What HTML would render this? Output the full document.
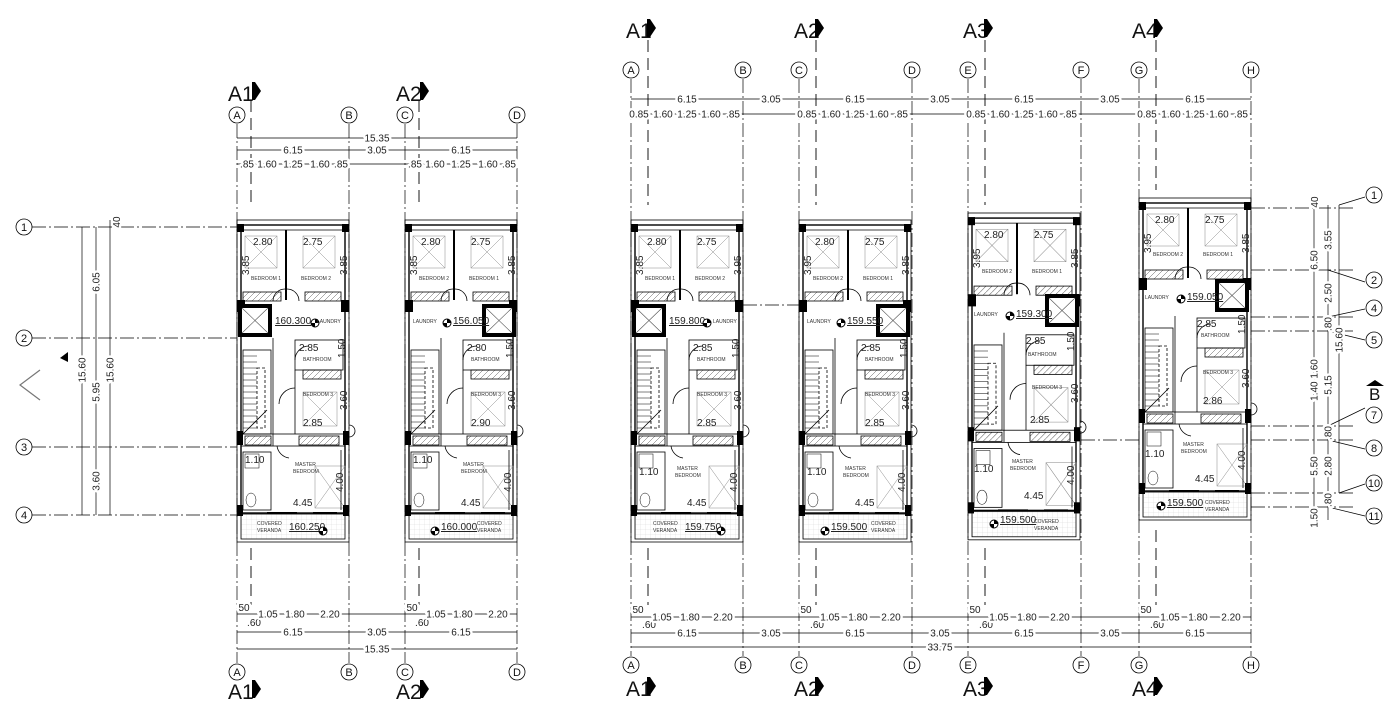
<!DOCTYPE html>
<html><head><meta charset="utf-8"><style>
html,body{margin:0;padding:0;background:#fff;}
svg{display:block;font-family:"Liberation Sans",sans-serif;}
.d{font-size:10px;fill:#222;}
.s{font-size:5px;fill:#333;}
.h{font-size:21px;fill:#111;}
.c{font-size:11px;fill:#111;}
.m{paint-order:stroke;stroke:#fff;stroke-width:5px;stroke-linejoin:round;}
</style></head><body>
<svg width="1385" height="718" viewBox="0 0 1385 718" xmlns="http://www.w3.org/2000/svg">
<defs>
<pattern id="ht" width="6" height="6" patternUnits="userSpaceOnUse"><path d="M0 6L6 0" stroke="#555" stroke-width="0.5"/></pattern>
<pattern id="gr" width="5" height="5" patternUnits="userSpaceOnUse"><path d="M5 0V5M0 5H5" stroke="#ccc" stroke-width="0.4"/></pattern>
<symbol id="plan" overflow="visible">
<g fill="none" stroke="#000" stroke-width="0.8">
<rect x="0" y="0" width="112" height="322"/>
<rect x="4" y="5" width="104" height="288" stroke-width="1.4"/>
<line x1="6" y1="10" x2="106" y2="10"/>
<line x1="49" y1="10" x2="49" y2="80" stroke-width="2"/>
<g stroke="#888" stroke-width="0.5">
<rect x="8" y="16" width="32" height="32"/><path d="M8 16L40 48M40 16L8 48"/>
<rect x="66" y="16" width="32" height="32"/><path d="M66 16L98 48M98 16L66 48"/>
<rect x="66" y="172" width="34" height="34"/><path d="M66 172L100 206M100 172L66 206"/>
<rect x="78" y="246" width="30" height="42"/><path d="M78 246L108 288M108 246L78 288"/>
</g>
<rect x="6" y="72" width="38" height="9" fill="url(#ht)"/>
<rect x="68" y="72" width="36" height="9" fill="url(#ht)"/>
<path d="M36 81A12 12 0 0 1 48 69M62 81A12 12 0 0 0 50 69"/>
<line x1="36" y1="118" x2="36" y2="226"/>
<rect x="58" y="120" width="48" height="30"/>
<line x1="58" y1="150" x2="58" y2="214"/>
<path d="M58 140A14 14 0 0 1 72 126"/>
<path d="M58 168A16 16 0 0 0 42 184"/>
<rect x="66" y="150" width="38" height="9" fill="url(#ht)"/>
<rect x="6" y="130" width="28" height="84"/>
<path d="M6 136H20M6 142H20M6 148H20M6 154H20M6 160H20M6 166H20M6 172H20M6 178H20M6 184H20M6 190H20M6 196H20M6 202H20M6 208H20" stroke-width="0.5"/>
<rect x="20" y="148" width="8" height="60" stroke-dasharray="3 2"/>
<path d="M6 214L30 190"/>
<path d="M112 205A6 6 0 0 1 112 217"/>
<rect x="4" y="214" width="104" height="12"/>
<rect x="8" y="216" width="26" height="9" fill="url(#ht)"/>
<rect x="62" y="216" width="40" height="9" fill="url(#ht)"/>
<path d="M40 226A14 14 0 0 0 52 238"/>
<rect x="6" y="232" width="28" height="58"/>
<rect x="8" y="234" width="14" height="14" stroke-width="0.5"/>
<ellipse cx="14" cy="280" rx="5" ry="7" stroke-width="0.5"/>
<line x1="104" y1="230" x2="104" y2="290"/>
<rect x="4" y="294" width="104" height="25" fill="url(#gr)"/>
<line x1="30" y1="293" x2="60" y2="293" stroke-width="2"/>
<line x1="76" y1="293" x2="100" y2="293" stroke-width="2"/>
</g>
<g fill="#000">
<rect x="0" y="4" width="7" height="8"/><rect x="105" y="4" width="7" height="8"/>
<rect x="0" y="80" width="8" height="12"/><rect x="104" y="80" width="8" height="12"/>
<rect x="0" y="211" width="6" height="14"/><rect x="106" y="211" width="6" height="14"/>
<rect x="0" y="285" width="6" height="11"/><rect x="106" y="285" width="6" height="11"/>
</g>
</symbol>
<symbol id="shaft" overflow="visible"><rect x="0" y="0" width="30" height="29" fill="#fff" stroke="#000" stroke-width="4"/><path d="M2 2L28 27M28 2L2 27" stroke="#555" stroke-width="0.6"/></symbol>
<symbol id="mk" overflow="visible"><circle r="4" fill="#fff" stroke="#000"/><path d="M0 -4A4 4 0 0 1 4 0H0ZM0 4A4 4 0 0 1 -4 0H0Z" fill="#000"/></symbol>
</defs>

<g stroke="#000" stroke-width="0.7" fill="none">
<g stroke-dasharray="14 3 2 3">
<line x1="237" y1="124" x2="237" y2="663"/><line x1="349" y1="124" x2="349" y2="663"/>
<line x1="405" y1="124" x2="405" y2="663"/><line x1="517" y1="124" x2="517" y2="663"/>
<line x1="631" y1="79" x2="631" y2="656"/><line x1="743" y1="79" x2="743" y2="656"/>
<line x1="799" y1="79" x2="799" y2="656"/><line x1="912" y1="79" x2="912" y2="656"/>
<line x1="968" y1="79" x2="968" y2="656"/><line x1="1081" y1="79" x2="1081" y2="656"/>
<line x1="1139" y1="79" x2="1139" y2="656"/><line x1="1251" y1="79" x2="1251" y2="656"/>
<line x1="32" y1="227" x2="237" y2="227"/><line x1="32" y1="338" x2="237" y2="338"/>
<line x1="32" y1="447" x2="237" y2="447"/><line x1="32" y1="515" x2="237" y2="515"/>
<line x1="743" y1="305" x2="799" y2="305"/>
<line x1="1081" y1="440" x2="1139" y2="440"/>
<line x1="1251" y1="208" x2="1355" y2="208"/><line x1="1251" y1="270" x2="1355" y2="270"/>
<line x1="1251" y1="317" x2="1355" y2="317"/><line x1="1251" y1="331" x2="1355" y2="331"/>
<line x1="1251" y1="426" x2="1355" y2="426"/><line x1="1251" y1="440" x2="1355" y2="440"/>
<line x1="1251" y1="493" x2="1355" y2="493"/><line x1="1251" y1="507" x2="1355" y2="507"/>
</g>
<g stroke-dasharray="12 6" stroke-width="0.9">
<line x1="251" y1="100" x2="251" y2="205"/><line x1="251" y1="548" x2="251" y2="605"/>
<line x1="419" y1="100" x2="419" y2="205"/><line x1="419" y1="548" x2="419" y2="605"/>
<line x1="648" y1="40" x2="648" y2="205"/><line x1="648" y1="548" x2="648" y2="605"/>
<line x1="816" y1="40" x2="816" y2="205"/><line x1="816" y1="548" x2="816" y2="605"/>
<line x1="985" y1="40" x2="985" y2="205"/><line x1="985" y1="548" x2="985" y2="605"/>
<line x1="1156" y1="40" x2="1156" y2="190"/><line x1="1156" y1="530" x2="1156" y2="605"/>
</g>
<line x1="237" y1="138" x2="517" y2="138"/><line x1="237" y1="150" x2="517" y2="150"/><line x1="237" y1="164" x2="517" y2="164"/>
<line x1="237" y1="614" x2="517" y2="614"/><line x1="237" y1="632" x2="517" y2="632"/><line x1="237" y1="649" x2="517" y2="649"/>
<line x1="631" y1="99" x2="1251" y2="99"/><line x1="631" y1="114" x2="1251" y2="114"/>
<line x1="631" y1="617" x2="1251" y2="617"/><line x1="631" y1="633" x2="1251" y2="633"/><line x1="631" y1="647" x2="1251" y2="647"/>
<line x1="82" y1="227" x2="82" y2="515"/><line x1="96" y1="227" x2="96" y2="515"/><line x1="110" y1="220" x2="110" y2="515"/>
<line x1="1314" y1="205" x2="1314" y2="520"/><line x1="1328" y1="205" x2="1328" y2="520"/><line x1="1339" y1="205" x2="1339" y2="493"/>
<path d="M1339 205L1365 197M1328 270L1365 282M1328 317L1365 309M1328 331L1365 340M1328 426L1365 408M1328 440L1365 449M1339 493L1365 484M1328 507L1365 516"/>
<path d="M40 370L20 385L40 400" stroke="#777" stroke-width="1.2"/>
</g>

<use href="#plan" x="237" y="220"/>
<use href="#plan" x="405" y="220"/>
<use href="#plan" x="631" y="220"/>
<use href="#plan" x="799" y="220"/>
<use href="#plan" transform="translate(968,213) scale(1,1.015)"/>
<use href="#plan" transform="translate(1139,198)"/>
<use href="#shaft" x="240" y="306"/>
<use href="#shaft" x="484" y="306"/>
<use href="#shaft" x="634" y="306"/>
<use href="#shaft" x="878" y="306"/>
<use href="#shaft" x="1047" y="296"/>
<use href="#shaft" x="1217" y="281"/>

<g class="d">
<g transform="translate(237,220)">
<text x="16" y="25">2.80</text><text x="66" y="25">2.75</text>
<text transform="translate(12,55) rotate(-90)">3.85</text><text transform="translate(110,55) rotate(-90)">3.85</text>
<text class="s" x="14" y="60">BEDROOM 1</text><text class="s" x="64" y="60">BEDROOM 2</text>
<text x="38" y="104" text-decoration="underline">160.300</text><use href="#mk" x="78" y="103"/>
<text class="s" x="80" y="103">LAUNDRY</text>
<text x="62" y="131">2.85</text><text transform="translate(108,138) rotate(-90)">1.50</text>
<text class="s" x="66" y="141">BATHROOM</text><text class="s" x="66" y="176">BEDROOM 3</text>
<text transform="translate(110,190) rotate(-90)">3.60</text><text x="66" y="206">2.85</text>
<text x="8" y="243">1.10</text><text class="s" x="58" y="246">MASTER</text><text class="s" x="56" y="253">BEDROOM</text>
<text transform="translate(106,272) rotate(-90)">4.00</text><text x="56" y="286">4.45</text>
<text class="s" x="20" y="305">COVERED</text><text class="s" x="20" y="312">VERANDA</text>
<text x="52" y="310" text-decoration="underline">160.250</text><use href="#mk" x="86" y="311"/>
</g>
<g transform="translate(405,220)">
<text x="16" y="25">2.80</text><text x="66" y="25">2.75</text>
<text transform="translate(12,55) rotate(-90)">3.85</text><text transform="translate(110,55) rotate(-90)">3.85</text>
<text class="s" x="14" y="60">BEDROOM 2</text><text class="s" x="64" y="60">BEDROOM 1</text>
<text class="s" x="8" y="103">LAUNDRY</text><use href="#mk" x="42" y="103"/>
<text x="48" y="104" text-decoration="underline">156.050</text>
<text x="62" y="131">2.80</text><text transform="translate(108,138) rotate(-90)">1.50</text>
<text class="s" x="66" y="141">BATHROOM</text><text class="s" x="66" y="176">BEDROOM 3</text>
<text transform="translate(110,190) rotate(-90)">3.60</text><text x="66" y="206">2.90</text>
<text x="8" y="243">1.10</text><text class="s" x="58" y="246">MASTER</text><text class="s" x="56" y="253">BEDROOM</text>
<text transform="translate(106,272) rotate(-90)">4.00</text><text x="56" y="286">4.45</text>
<text class="s" x="72" y="305">COVERED</text><text class="s" x="72" y="312">VERANDA</text>
<use href="#mk" x="30" y="311"/><text x="36" y="310" text-decoration="underline">160.000</text>
</g>
<g transform="translate(631,220)">
<text x="16" y="25">2.80</text><text x="66" y="25">2.75</text>
<text transform="translate(12,55) rotate(-90)">3.85</text><text transform="translate(110,55) rotate(-90)">3.95</text>
<text class="s" x="14" y="60">BEDROOM 1</text><text class="s" x="64" y="60">BEDROOM 2</text>
<text x="38" y="104" text-decoration="underline">159.800</text><use href="#mk" x="76" y="103"/>
<text class="s" x="82" y="103">LAUNDRY</text>
<text x="62" y="131">2.85</text><text transform="translate(108,138) rotate(-90)">1.50</text>
<text class="s" x="66" y="141">BATHROOM</text><text class="s" x="66" y="176">BEDROOM 3</text>
<text transform="translate(110,190) rotate(-90)">3.60</text><text x="66" y="206">2.85</text>
<text x="8" y="255">1.10</text><text class="s" x="46" y="250">MASTER</text><text class="s" x="44" y="257">BEDROOM</text>
<text transform="translate(106,272) rotate(-90)">4.00</text><text x="56" y="286">4.45</text>
<text class="s" x="22" y="305">COVERED</text><text class="s" x="22" y="312">VERANDA</text>
<text x="54" y="310" text-decoration="underline">159.750</text><use href="#mk" x="90" y="311"/>
</g>
<g transform="translate(799,220)">
<text x="16" y="25">2.80</text><text x="66" y="25">2.75</text>
<text transform="translate(12,55) rotate(-90)">3.95</text><text transform="translate(110,55) rotate(-90)">3.85</text>
<text class="s" x="14" y="60">BEDROOM 2</text><text class="s" x="64" y="60">BEDROOM 1</text>
<text class="s" x="8" y="103">LAUNDRY</text><use href="#mk" x="42" y="103"/>
<text x="48" y="104" text-decoration="underline">159.550</text>
<text x="62" y="131">2.85</text><text transform="translate(108,138) rotate(-90)">1.50</text>
<text class="s" x="66" y="141">BATHROOM</text><text class="s" x="66" y="176">BEDROOM 3</text>
<text transform="translate(110,190) rotate(-90)">3.60</text><text x="66" y="206">2.85</text>
<text x="8" y="255">1.10</text><text class="s" x="46" y="250">MASTER</text><text class="s" x="44" y="257">BEDROOM</text>
<text transform="translate(106,272) rotate(-90)">4.00</text><text x="56" y="286">4.45</text>
<text class="s" x="72" y="305">COVERED</text><text class="s" x="72" y="312">VERANDA</text>
<use href="#mk" x="26" y="311"/><text x="32" y="310" text-decoration="underline">159.500</text>
</g>
<g transform="translate(968,213)">
<text x="16" y="25">2.80</text><text x="66" y="25">2.75</text>
<text transform="translate(12,55) rotate(-90)">3.95</text><text transform="translate(110,55) rotate(-90)">3.85</text>
<text class="s" x="14" y="60">BEDROOM 2</text><text class="s" x="64" y="60">BEDROOM 1</text>
<text class="s" x="6" y="103">LAUNDRY</text><use href="#mk" x="42" y="103"/>
<text x="48" y="104" text-decoration="underline">159.300</text>
<text x="58" y="131">2.85</text><text transform="translate(106,138) rotate(-90)">1.50</text>
<text class="s" x="60" y="143">BATHROOM</text><text class="s" x="64" y="176">BEDROOM 3</text>
<text transform="translate(110,190) rotate(-90)">3.60</text><text x="62" y="210">2.85</text>
<text x="6" y="259">1.10</text><text class="s" x="44" y="250">MASTER</text><text class="s" x="42" y="257">BEDROOM</text>
<text transform="translate(106,272) rotate(-90)">4.00</text><text x="56" y="286">4.45</text>
<text class="s" x="66" y="310">COVERED</text><text class="s" x="66" y="317">VERANDA</text>
<use href="#mk" x="26" y="311"/><text x="32" y="310" text-decoration="underline">159.500</text>
</g>
<g transform="translate(1139,198)">
<text x="16" y="25">2.80</text><text x="66" y="25">2.75</text>
<text transform="translate(12,55) rotate(-90)">3.95</text><text transform="translate(110,55) rotate(-90)">3.85</text>
<text class="s" x="14" y="58">BEDROOM 2</text><text class="s" x="64" y="58">BEDROOM 1</text>
<text class="s" x="6" y="101">LAUNDRY</text><use href="#mk" x="42" y="101"/>
<text x="48" y="102" text-decoration="underline">159.050</text>
<text x="58" y="129">2.85</text><text transform="translate(106,136) rotate(-90)">1.50</text>
<text class="s" x="62" y="139">BATHROOM</text><text class="s" x="64" y="176">BEDROOM 3</text>
<text transform="translate(110,190) rotate(-90)">3.60</text><text x="64" y="206">2.86</text>
<text x="6" y="259">1.10</text><text class="s" x="44" y="248">MASTER</text><text class="s" x="42" y="255">BEDROOM</text>
<text transform="translate(106,272) rotate(-90)">4.00</text><text x="56" y="284">4.45</text>
<text class="s" x="66" y="306">COVERED</text><text class="s" x="66" y="313">VERANDA</text>
<use href="#mk" x="22" y="308"/><text x="28" y="308" text-decoration="underline">159.500</text>
</g>
</g>

<g class="d m" text-anchor="middle">
<text x="377" y="141.5">15.35</text>
<text x="293" y="153.5">6.15</text><text x="377" y="153.5">3.05</text><text x="461" y="153.5">6.15</text>
<text x="247" y="167.5">.85</text><text x="267" y="167.5">1.60</text><text x="293" y="167.5">1.25</text><text x="320" y="167.5">1.60</text><text x="341" y="167.5">.85</text>
<text x="415" y="167.5">.85</text><text x="435" y="167.5">1.60</text><text x="461" y="167.5">1.25</text><text x="488" y="167.5">1.60</text><text x="509" y="167.5">.85</text>
<text x="244" y="611">50</text><text x="254" y="626">.60</text><text x="268" y="617.5">1.05</text><text x="295" y="617.5">1.80</text><text x="330" y="617.5">2.20</text>
<text x="412" y="611">50</text><text x="422" y="626">.60</text><text x="436" y="617.5">1.05</text><text x="463" y="617.5">1.80</text><text x="498" y="617.5">2.20</text>
<text x="293" y="635.5">6.15</text><text x="377" y="635.5">3.05</text><text x="461" y="635.5">6.15</text>
<text x="377" y="652.5">15.35</text>
<text x="687" y="102.5">6.15</text><text x="771" y="102.5">3.05</text><text x="855" y="102.5">6.15</text><text x="940" y="102.5">3.05</text><text x="1024" y="102.5">6.15</text><text x="1110" y="102.5">3.05</text><text x="1195" y="102.5">6.15</text>
<text x="687" y="636.5">6.15</text><text x="771" y="636.5">3.05</text><text x="855" y="636.5">6.15</text><text x="940" y="636.5">3.05</text><text x="1024" y="636.5">6.15</text><text x="1110" y="636.5">3.05</text><text x="1195" y="636.5">6.15</text>
<text x="940" y="650.5">33.75</text>
</g>
<g class="d m" text-anchor="middle">
<g transform="translate(631,0)"><text x="8" y="117.5">0.85</text><text x="32" y="117.5">1.60</text><text x="56" y="117.5">1.25</text><text x="80" y="117.5">1.60</text><text x="102" y="117.5">.85</text>
<text x="7" y="613">50</text><text x="18" y="628">.60</text><text x="31" y="620.5">1.05</text><text x="59" y="620.5">1.80</text><text x="92" y="620.5">2.20</text></g>
<g transform="translate(799,0)"><text x="8" y="117.5">0.85</text><text x="32" y="117.5">1.60</text><text x="56" y="117.5">1.25</text><text x="80" y="117.5">1.60</text><text x="102" y="117.5">.85</text>
<text x="7" y="613">50</text><text x="18" y="628">.60</text><text x="31" y="620.5">1.05</text><text x="59" y="620.5">1.80</text><text x="92" y="620.5">2.20</text></g>
<g transform="translate(968,0)"><text x="8" y="117.5">0.85</text><text x="32" y="117.5">1.60</text><text x="56" y="117.5">1.25</text><text x="80" y="117.5">1.60</text><text x="102" y="117.5">.85</text>
<text x="7" y="613">50</text><text x="18" y="628">.60</text><text x="31" y="620.5">1.05</text><text x="59" y="620.5">1.80</text><text x="92" y="620.5">2.20</text></g>
<g transform="translate(1139,0)"><text x="8" y="117.5">0.85</text><text x="32" y="117.5">1.60</text><text x="56" y="117.5">1.25</text><text x="80" y="117.5">1.60</text><text x="102" y="117.5">.85</text>
<text x="7" y="613">50</text><text x="18" y="628">.60</text><text x="31" y="620.5">1.05</text><text x="59" y="620.5">1.80</text><text x="92" y="620.5">2.20</text></g>
</g>
<g class="d m" text-anchor="middle">
<text transform="translate(85.5,370) rotate(-90)">15.60</text>
<text transform="translate(99.5,282) rotate(-90)">6.05</text>
<text transform="translate(99.5,392) rotate(-90)">5.95</text>
<text transform="translate(99.5,481) rotate(-90)">3.60</text>
<text transform="translate(113.5,370) rotate(-90)">15.60</text>
<text transform="translate(120,222) rotate(-90)">40</text>
<text transform="translate(1317.5,260) rotate(-90)">6.50</text>
<text transform="translate(1317.5,380) rotate(-90)">1.40 1.60</text>
<text transform="translate(1317.5,466) rotate(-90)">5.50</text>
<text transform="translate(1317.5,518) rotate(-90)">1.50</text>
<text transform="translate(1318,202) rotate(-90)">40</text>
<text transform="translate(1331.5,240) rotate(-90)">3.55</text>
<text transform="translate(1331.5,293) rotate(-90)">2.50</text>
<text transform="translate(1331.5,324) rotate(-90)">.80</text>
<text transform="translate(1331.5,385) rotate(-90)">5.15</text>
<text transform="translate(1331.5,433) rotate(-90)">.80</text>
<text transform="translate(1331.5,466) rotate(-90)">2.80</text>
<text transform="translate(1331.5,500) rotate(-90)">.80</text>
<text transform="translate(1342.5,340) rotate(-90)">15.60</text>
</g>

<g fill="#fff" stroke="#000" stroke-width="0.8">
<circle cx="237" cy="115" r="8"/><circle cx="349" cy="115" r="8"/><circle cx="405" cy="115" r="8"/><circle cx="517" cy="115" r="8"/>
<circle cx="237" cy="672" r="8"/><circle cx="349" cy="672" r="8"/><circle cx="405" cy="672" r="8"/><circle cx="517" cy="672" r="8"/>
<circle cx="631" cy="70" r="8"/><circle cx="743" cy="70" r="8"/><circle cx="799" cy="70" r="8"/><circle cx="912" cy="70" r="8"/>
<circle cx="968" cy="70" r="8"/><circle cx="1081" cy="70" r="8"/><circle cx="1139" cy="70" r="8"/><circle cx="1251" cy="70" r="8"/>
<circle cx="631" cy="665" r="8"/><circle cx="743" cy="665" r="8"/><circle cx="799" cy="665" r="8"/><circle cx="912" cy="665" r="8"/>
<circle cx="968" cy="665" r="8"/><circle cx="1081" cy="665" r="8"/><circle cx="1139" cy="665" r="8"/><circle cx="1251" cy="665" r="8"/>
<circle cx="24" cy="227" r="8"/><circle cx="24" cy="338" r="8"/><circle cx="24" cy="447" r="8"/><circle cx="24" cy="515" r="8"/>
<circle cx="1374" cy="195" r="8"/><circle cx="1374" cy="280" r="8"/><circle cx="1374" cy="308" r="8"/><circle cx="1374" cy="340" r="8"/>
<circle cx="1374" cy="415" r="8"/><circle cx="1374" cy="448" r="8"/><circle cx="1374" cy="483" r="8"/><circle cx="1374" cy="516" r="8"/>
</g>
<g class="c" text-anchor="middle">
<text x="237" y="119">A</text><text x="349" y="119">B</text><text x="405" y="119">C</text><text x="517" y="119">D</text>
<text x="237" y="676">A</text><text x="349" y="676">B</text><text x="405" y="676">C</text><text x="517" y="676">D</text>
<text x="631" y="74">A</text><text x="743" y="74">B</text><text x="799" y="74">C</text><text x="912" y="74">D</text>
<text x="968" y="74">E</text><text x="1081" y="74">F</text><text x="1139" y="74">G</text><text x="1251" y="74">H</text>
<text x="631" y="669">A</text><text x="743" y="669">B</text><text x="799" y="669">C</text><text x="912" y="669">D</text>
<text x="968" y="669">E</text><text x="1081" y="669">F</text><text x="1139" y="669">G</text><text x="1251" y="669">H</text>
<text x="24" y="231">1</text><text x="24" y="342">2</text><text x="24" y="451">3</text><text x="24" y="519">4</text>
<text x="1374" y="199">1</text><text x="1374" y="284">2</text><text x="1374" y="312">4</text><text x="1374" y="344">5</text>
<text x="1374" y="419">7</text><text x="1374" y="452">8</text><text x="1374" y="487">10</text><text x="1374" y="520">11</text>
</g>

<g class="h">
<text x="228" y="101">A1</text><text x="396" y="101">A2</text>
<text x="228" y="699">A1</text><text x="396" y="699">A2</text>
<text x="626" y="38">A1</text><text x="794" y="38">A2</text><text x="963" y="38">A3</text><text x="1132" y="38">A4</text>
<text x="626" y="696">A1</text><text x="794" y="696">A2</text><text x="963" y="696">A3</text><text x="1132" y="696">A4</text>
</g>
<g fill="#000">
<path d="M252 82h3l6 9-6 9h-3z"/><path d="M420 82h3l6 9-6 9h-3z"/>
<path d="M252 680h3l6 9-6 9h-3z"/><path d="M420 680h3l6 9-6 9h-3z"/>
<path d="M647 19h3l6 9-6 9h-3z"/><path d="M815 19h3l6 9-6 9h-3z"/><path d="M984 19h3l6 9-6 9h-3z"/><path d="M1154 19h3l6 9-6 9h-3z"/>
<path d="M647 677h3l6 9-6 9h-3z"/><path d="M815 677h3l6 9-6 9h-3z"/><path d="M984 677h3l6 9-6 9h-3z"/><path d="M1154 677h3l6 9-6 9h-3z"/>
<path d="M1366 386L1375 380L1384 386Z"/>
<path d="M60 358L68 352L68 362Z"/>
</g>
<text x="1369" y="400" style="font-size:17px;fill:#111">B</text>
</svg>
</body></html>
